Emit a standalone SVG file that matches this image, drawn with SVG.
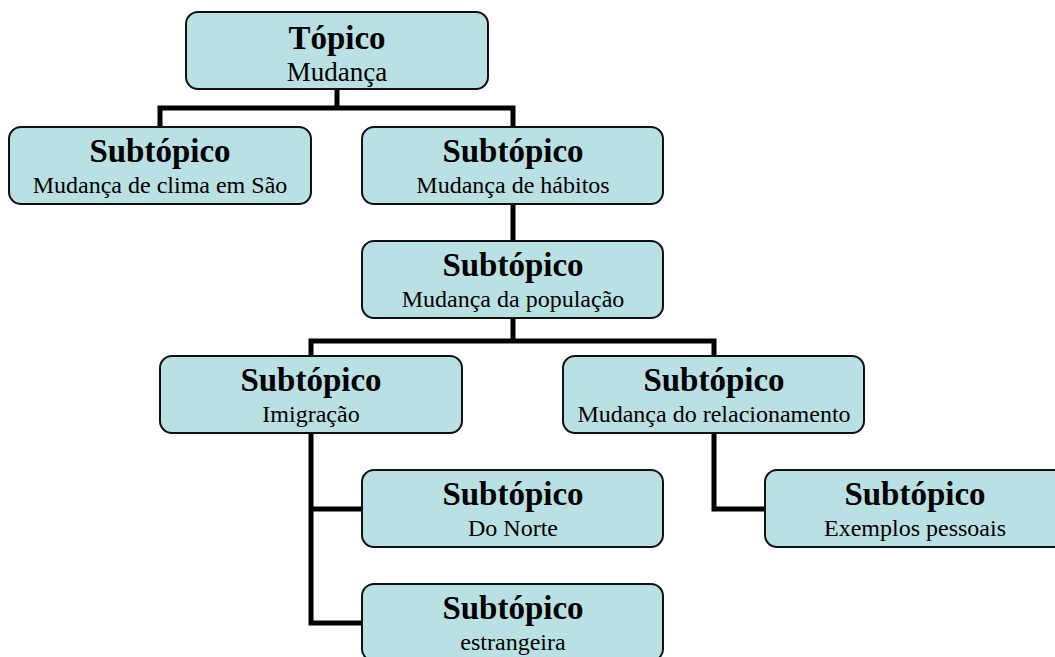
<svg xmlns="http://www.w3.org/2000/svg" width="1055" height="657" viewBox="0 0 1055 657">
<style>
.box{fill:#B9E0E3;stroke:#111;stroke-width:2}
.t{font-family:"Liberation Serif",serif;font-weight:bold;font-size:33px;text-anchor:middle;fill:#000}
.s{font-family:"Liberation Serif",serif;font-size:24px;text-anchor:middle;fill:#000}
.c{fill:none;stroke:#000;stroke-width:5;stroke-linejoin:miter}
</style>
<rect width="1055" height="657" fill="#fff"/>
<g id="connectors">
<path class="c" d="M337 89V108M160 127V108H513V127"/>
<path class="c" d="M513 204V241"/>
<path class="c" d="M513 318V341M311 356V341H714V356"/>
<path class="c" d="M311 433V623H362M311 509H362"/>
<path class="c" d="M714 433V509H765"/>
</g>
<g id="n0"><rect class="box" x="186" y="12" width="302" height="77" rx="12"/><text class="t" x="337" y="49">Tópico</text><text class="s" x="337" y="81" style="font-size:27px">Mudança</text></g>
<g id="n1"><rect class="box" x="9" y="127" width="302" height="77" rx="12"/><text class="t" x="160" y="162">Subtópico</text><text class="s" x="160" y="193">Mudança de clima em São</text></g>
<g id="n2"><rect class="box" x="362" y="127" width="301" height="77" rx="12"/><text class="t" x="513" y="162">Subtópico</text><text class="s" x="513" y="193">Mudança de hábitos</text></g>
<g id="n3"><rect class="box" x="362" y="241" width="301" height="77" rx="12"/><text class="t" x="513" y="276">Subtópico</text><text class="s" x="513" y="307">Mudança da população</text></g>
<g id="n4"><rect class="box" x="160" y="356" width="302" height="77" rx="12"/><text class="t" x="311" y="391">Subtópico</text><text class="s" x="311" y="422">Imigração</text></g>
<g id="n5"><rect class="box" x="563" y="356" width="301" height="77" rx="12"/><text class="t" x="714" y="391">Subtópico</text><text class="s" x="714" y="422">Mudança do relacionamento</text></g>
<g id="n6"><rect class="box" x="362" y="470" width="301" height="77" rx="12"/><text class="t" x="513" y="505">Subtópico</text><text class="s" x="513" y="536">Do Norte</text></g>
<g id="n7"><rect class="box" x="362" y="584" width="301" height="77" rx="12"/><text class="t" x="513" y="619">Subtópico</text><text class="s" x="513" y="650">estrangeira</text></g>
<g id="n8"><rect class="box" x="765" y="470" width="301" height="77" rx="12"/><text class="t" x="915" y="505">Subtópico</text><text class="s" x="915" y="536">Exemplos pessoais</text></g>
</svg>
